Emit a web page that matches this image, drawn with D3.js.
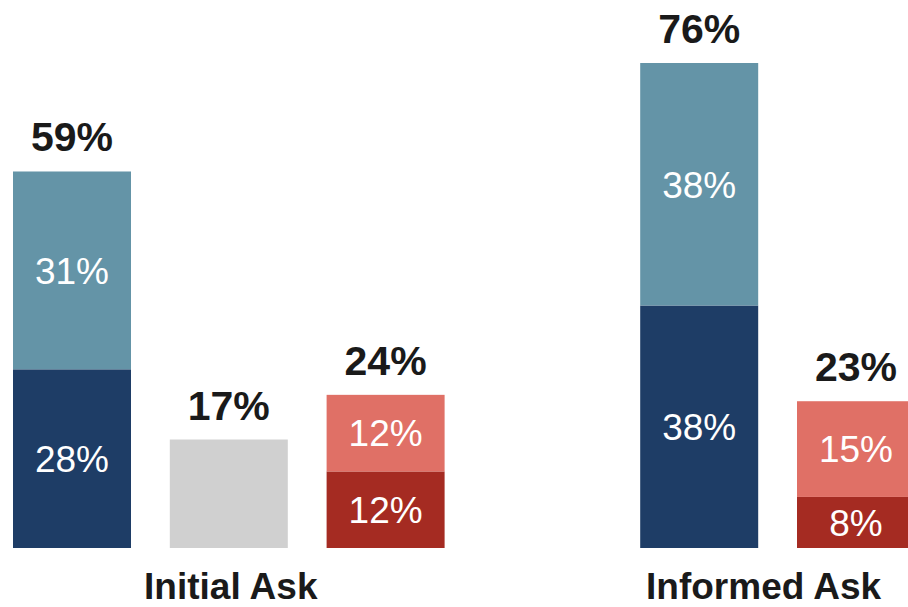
<!DOCTYPE html>
<html>
<head>
<meta charset="utf-8">
<script src="https://cdn.jsdelivr.net/npm/d3@7/dist/d3.min.js"></script>
<style>
  html, body { margin: 0; padding: 0; background: #ffffff; }
  svg { display: block; }
  text { font-family: "Liberation Sans", Arial, Helvetica, sans-serif; }
</style>
</head>
<body>
<div id="chart"></div>
<script>
// Slots along the x axis; "gap" keeps the space between the two groups
const slots = ["initial-yes", "initial-neutral", "initial-no", "gap", "informed-yes", "informed-no"];

// Stacked bars: lower and upper segment values (percent)
const barSlots   = ["initial-yes", "initial-neutral", "initial-no", "informed-yes", "informed-no"];
const lowerVals  = [28, 17, 12, 38, 8];
const upperVals  = [31, 0, 12, 38, 15];
const totalVals  = [59, 17, 24, 76, 23];
const lowerColors = ["#1e3d66", "#d0d0d0", "#a52b22", "#1e3d66", "#a52b22"];
const upperColors = ["#6494a7", "#d0d0d0", "#e07066", "#6494a7", "#e07066"];
const showSegmentLabels = [true, false, true, true, true];

// Group labels under the bars
const groupNames = ["Initial Ask", "Informed Ask"];
const groupSlots = [["initial-yes", "initial-no"], ["informed-yes", "informed-no"]];

const W = 908, H = 607;
const baseY = 548;

const svg = d3.select("#chart").append("svg")
  .attr("width", W).attr("height", H);

const x = d3.scaleBand()
  .domain(slots)
  .range([13, 13 + 6 * 156.8 - 38.8])
  .paddingInner(38.8 / 156.8)
  .paddingOuter(0);

const y = d3.scaleLinear().domain([0, 76]).range([baseY, 63]);

const bars = barSlots.map((s, i) => ({
  slot: s, lower: lowerVals[i], upper: upperVals[i], total: totalVals[i],
  c0: lowerColors[i], c1: upperColors[i], lab: showSegmentLabels[i]
}));

const g = svg.append("g");

// lower segment
g.selectAll("rect.lower").data(bars).join("rect")
  .attr("class", "lower")
  .attr("x", d => x(d.slot))
  .attr("width", x.bandwidth())
  .attr("y", d => y(d.lower))
  .attr("height", d => y(0) - y(d.lower))
  .attr("fill", d => d.c0);

// upper segment
g.selectAll("rect.upper").data(bars.filter(d => d.upper > 0)).join("rect")
  .attr("class", "upper")
  .attr("x", d => x(d.slot))
  .attr("width", x.bandwidth())
  .attr("y", d => y(d.lower + d.upper))
  .attr("height", d => y(d.lower) - y(d.lower + d.upper))
  .attr("fill", d => d.c1);

// segment value labels
const segLabels = [];
bars.forEach(d => {
  if (!d.lab) return;
  segLabels.push({ slot: d.slot, v: d.lower, mid: d.lower / 2 });
  if (d.upper > 0) segLabels.push({ slot: d.slot, v: d.upper, mid: d.lower + d.upper / 2 });
});

g.selectAll("text.seg").data(segLabels).join("text")
  .attr("class", "seg")
  .attr("x", d => x(d.slot) + x.bandwidth() / 2)
  .attr("y", d => y(d.mid))
  .attr("dy", "0.36em")
  .attr("text-anchor", "middle")
  .attr("fill", "#ffffff")
  .attr("font-size", 37)
  .text(d => d.v + "%");

// totals above bars
g.selectAll("text.total").data(bars).join("text")
  .attr("class", "total")
  .attr("x", d => x(d.slot) + x.bandwidth() / 2)
  .attr("y", d => y(d.total) - 20)
  .attr("text-anchor", "middle")
  .attr("fill", "#1a1a1a")
  .attr("font-size", 41)
  .attr("font-weight", "bold")
  .text(d => d.total + "%");

// group labels, centred under each group (with a small nudge per group)
const groupNudge = [2, -14];
g.selectAll("text.group").data(groupNames).join("text")
  .attr("class", "group")
  .attr("x", (d, i) => {
    const left = x(groupSlots[i][0]);
    const right = x(groupSlots[i][1]) + x.bandwidth();
    return (left + right) / 2 + groupNudge[i];
  })
  .attr("y", 599)
  .attr("text-anchor", "middle")
  .attr("fill", "#1a1a1a")
  .attr("font-size", 37)
  .attr("font-weight", "bold")
  .text(d => d);
</script>
</body>
</html>
